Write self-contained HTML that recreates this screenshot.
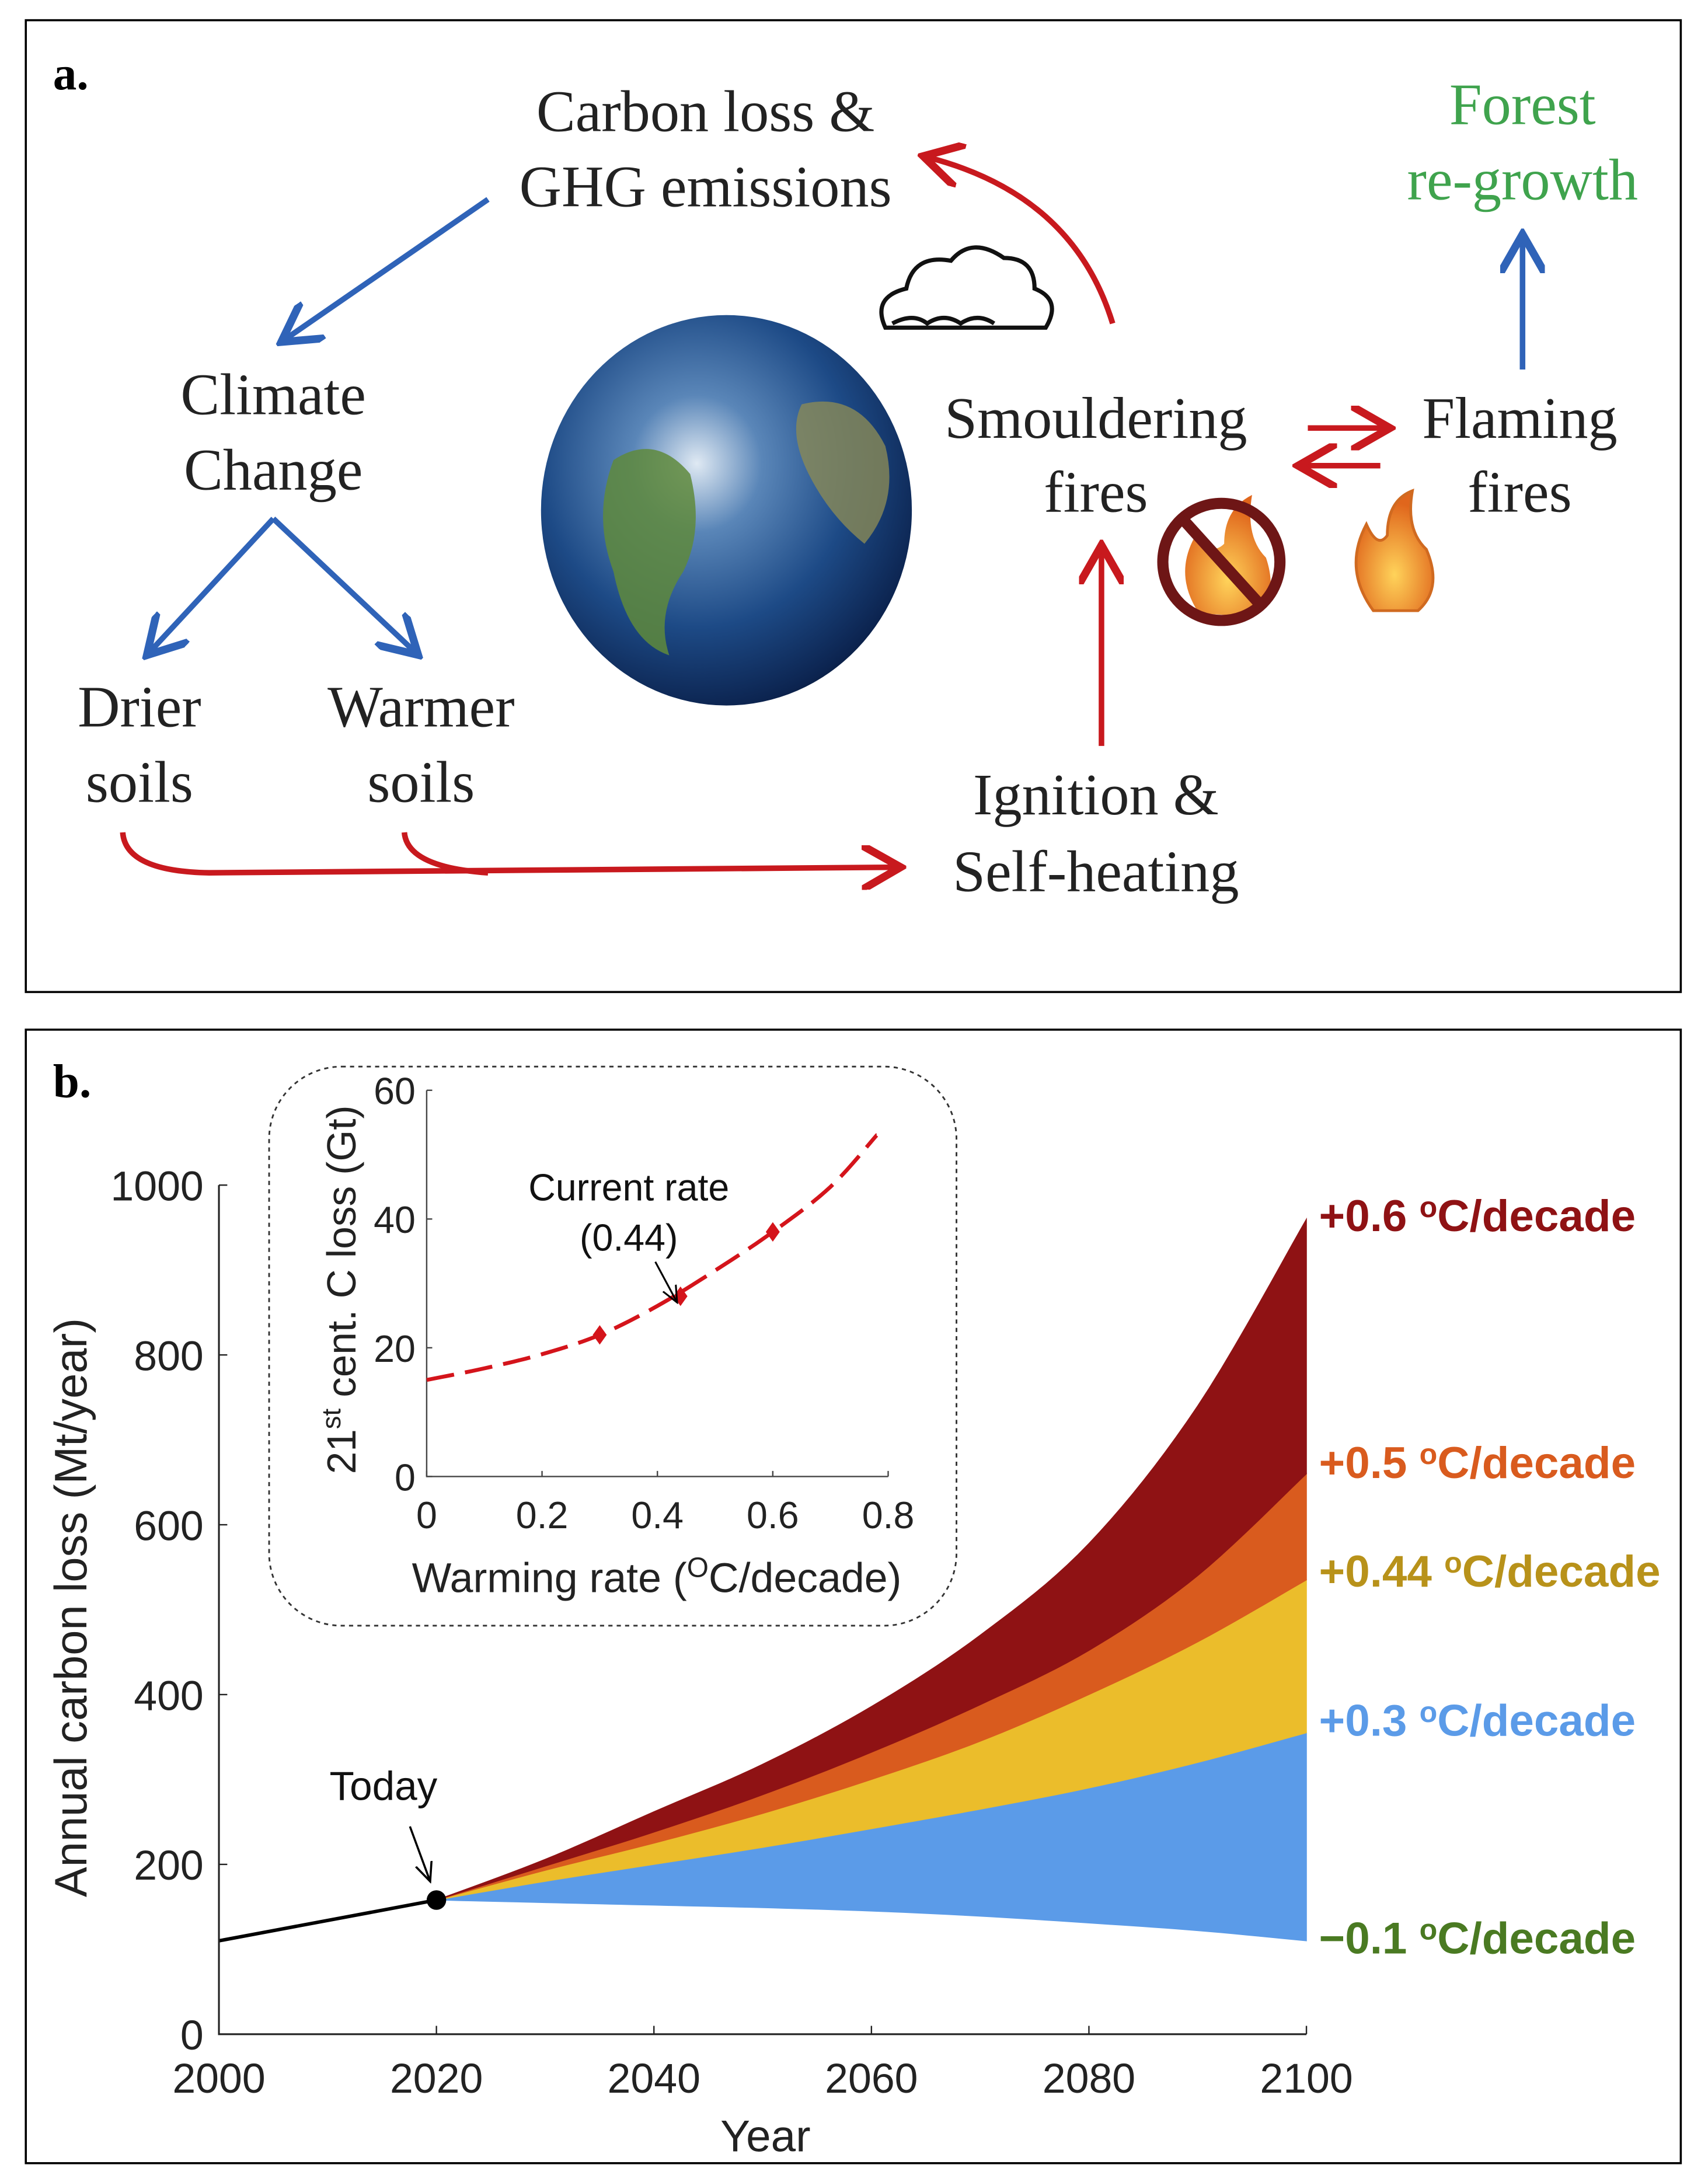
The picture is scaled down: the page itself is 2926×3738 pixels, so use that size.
<!DOCTYPE html>
<html><head><meta charset="utf-8"><style>
html,body{margin:0;padding:0;background:#fff;}
svg{display:block;}
.serif{font-family:"Liberation Serif",serif;}
.sans{font-family:"Liberation Sans",sans-serif;}
</style></head><body>
<svg id="fig" width="2926" height="3738" viewBox="0 0 1225 1565" xmlns="http://www.w3.org/2000/svg">
<defs>
<radialGradient id="earth" cx="0.42" cy="0.38" r="0.7">
<stop offset="0" stop-color="#dfe9f3"/><stop offset="0.25" stop-color="#5a86b8"/><stop offset="0.6" stop-color="#1d4a86"/><stop offset="0.9" stop-color="#0c2450"/><stop offset="1" stop-color="#06142e"/>
</radialGradient>
<radialGradient id="flame" cx="0.5" cy="0.7" r="0.6"><stop offset="0" stop-color="#ffd35a"/><stop offset="1" stop-color="#e0661c"/></radialGradient>
<marker id="ab" markerWidth="8" markerHeight="8" refX="6" refY="4" orient="auto" markerUnits="strokeWidth"><path d="M0,0 L7,4 L0,8" fill="none" stroke="#2f63b8" stroke-width="1.4"/></marker>
<marker id="ar" markerWidth="8" markerHeight="8" refX="6" refY="4" orient="auto" markerUnits="strokeWidth"><path d="M0,0 L7,4 L0,8" fill="none" stroke="#c8191e" stroke-width="1.4"/></marker>
<marker id="ak" markerWidth="10" markerHeight="10" refX="8" refY="5" orient="auto" markerUnits="strokeWidth"><path d="M0,1 L9,5 L0,9" fill="none" stroke="#000" stroke-width="1"/></marker>
</defs>

<g>
<rect x="18.5" y="14.5" width="1187" height="697" fill="#fff" stroke="#000" stroke-width="1.5"/>
<text x="38" y="64" class="serif" font-size="34" font-weight="bold">a.</text>
<g class="serif" font-size="42" text-anchor="middle" fill="#222">
<text x="506" y="94">Carbon loss &amp;</text>
<text x="506" y="148">GHG emissions</text>
<text x="1092" y="89" fill="#3fa34d">Forest</text>
<text x="1092" y="143" fill="#3fa34d">re-growth</text>
<text x="196" y="297">Climate</text>
<text x="196" y="351">Change</text>
<text x="100" y="521">Drier</text>
<text x="100" y="575">soils</text>
<text x="302" y="521">Warmer</text>
<text x="302" y="575">soils</text>
<text x="786" y="314">Smouldering</text>
<text x="786" y="367">fires</text>
<text x="1090" y="314">Flaming</text>
<text x="1090" y="367">fires</text>
<text x="786" y="584">Ignition &amp;</text>
<text x="786" y="639">Self-heating</text>
</g>
<g fill="none" stroke-width="4">
<path d="M350,143 L205,243" stroke="#2f63b8" marker-end="url(#ab)"/>
<path d="M196,372 L108,467" stroke="#2f63b8" marker-end="url(#ab)"/>
<path d="M196,372 L297,467" stroke="#2f63b8" marker-end="url(#ab)"/>
<path d="M1092,265 L1092,172" stroke="#2f63b8" marker-end="url(#ab)"/>
<path d="M798,232 Q770,140 666,113" stroke="#c8191e" marker-end="url(#ar)"/>
<path d="M790,535 L790,395" stroke="#c8191e" marker-end="url(#ar)"/>
<path d="M88,597 Q90,625 150,626 L642,622" stroke="#c8191e" marker-end="url(#ar)"/>
<path d="M290,597 Q292,622 350,626" stroke="#c8191e"/>
<path d="M938,307 L993,307" stroke="#c8191e" marker-end="url(#ar)"/>
<path d="M990,334 L935,334" stroke="#c8191e" marker-end="url(#ar)"/>
</g>
<g>
<ellipse cx="521" cy="366" rx="133" ry="140" fill="url(#earth)"/>
<path d="M440,330 q30,-20 55,10 q10,40 -5,70 q-20,30 -10,60 q-30,-10 -40,-60 q-15,-40 0,-80z" fill="#5f8a3c" opacity="0.85"/>
<path d="M575,290 q40,-10 60,30 q10,40 -15,70 q-25,-20 -40,-50 q-15,-30 -5,-50z" fill="#8a8a56" opacity="0.8"/>
</g>
<g fill="#fff" stroke="#111" stroke-width="3">
<path d="M635,235 q-10,-22 15,-28 q5,-25 32,-20 q15,-18 38,-2 q22,0 22,22 q20,8 8,28 z"/>
<path d="M640,232 q15,-8 25,0 q12,-8 24,0 q12,-8 24,0" fill="none"/>
</g>
<g>
<path d="M860,440 q-20,-30 0,-60 q8,20 18,10 q0,-25 20,-35 q-5,30 10,45 q10,30 -10,42z" fill="url(#flame)"/>
<circle cx="876" cy="403" r="42" fill="none" stroke="#6e1616" stroke-width="8"/>
<line x1="848" y1="372" x2="905" y2="435" stroke="#6e1616" stroke-width="8"/>
</g>
<g>
<path d="M985,438 q-22,-30 -5,-62 q8,18 15,8 q0,-25 18,-32 q-5,28 10,42 q12,28 -6,44z" fill="url(#flame)" stroke="#d06a20" stroke-width="2"/>
</g>
</g>

<g>
<rect x="18.5" y="738.5" width="1187" height="813" fill="#fff" stroke="#000" stroke-width="1.5"/>
<text x="38" y="787" class="serif" font-size="34" font-weight="bold">b.</text>
<g id="main" class="sans"></g>
<g id="inset" class="sans"></g>
</g>
</svg>
<script>
// Main chart data
const years = [2020, 2030, 2040, 2050, 2060, 2070, 2080, 2090, 2100];
const rateMinus01 = [158, 155, 152, 149, 145, 139, 131, 122, 110];
const rate03 = [158, 180, 200, 220, 242, 265, 290, 320, 355];
const rate044 = [158, 193, 225, 260, 300, 345, 400, 462, 535];
const rate05 = [158, 198, 238, 282, 332, 388, 452, 540, 660];
const rate06 = [158, 206, 262, 318, 386, 470, 578, 740, 960];
const histYears = [2000, 2020];
const histValues = [110, 158];
const yTicks = [0, 200, 400, 600, 800, 1000];
const xTicks = [2000, 2020, 2040, 2060, 2080, 2100];
// Inset data
const insetRates = [0, 0.1, 0.2, 0.3, 0.4, 0.5, 0.6, 0.7, 0.78];
const insetLoss = [15, 16.8, 19, 22, 26.5, 32, 38, 45, 53];
const markerRates = [0.3, 0.44, 0.6];
const markerLoss = [22, 28, 38];
const insetYTicks = [0, 20, 40, 60];
const insetXTicks = [0, 0.2, 0.4, 0.6, 0.8];

const NS = 'http://www.w3.org/2000/svg';
function mk(parent, tag, attrs, text) {
  const e = document.createElementNS(NS, tag);
  for (const k in attrs) e.setAttribute(k, attrs[k]);
  if (text !== undefined) e.textContent = text;
  parent.appendChild(e);
  return e;
}
const X = yr => 157 + (yr - 2000) * 7.8;
const Y = v => 1459 - v * 0.609;
const IX = r => 306 + r * 413.75;
const IY = v => 1059 - v * 4.617;

function smooth(xs, ys, fx, fy) {
  const pts = [];
  const n = xs.length;
  for (let i = 0; i < n - 1; i++) {
    const x0 = xs[Math.max(0, i - 1)], y0 = ys[Math.max(0, i - 1)];
    const x1 = xs[i], y1 = ys[i], x2 = xs[i + 1], y2 = ys[i + 1];
    const x3 = xs[Math.min(n - 1, i + 2)], y3 = ys[Math.min(n - 1, i + 2)];
    for (let t = 0; t < 1; t += 0.1) {
      const t2 = t * t, t3 = t2 * t;
      const cx = 0.5 * (2 * x1 + (-x0 + x2) * t + (2 * x0 - 5 * x1 + 4 * x2 - x3) * t2 + (-x0 + 3 * x1 - 3 * x2 + x3) * t3);
      const cy = 0.5 * (2 * y1 + (-y0 + y2) * t + (2 * y0 - 5 * y1 + 4 * y2 - y3) * t2 + (-y0 + 3 * y1 - 3 * y2 + y3) * t3);
      pts.push([fx(cx), fy(cy)]);
    }
  }
  pts.push([fx(xs[n - 1]), fy(ys[n - 1])]);
  return pts;
}

const main = document.getElementById('main');
const bands = [
  [rateMinus01, rate03, '#5b9be8', 'band-0.3'],
  [rate03, rate044, '#ebbd2b', 'band-0.44'],
  [rate044, rate05, '#d95b1e', 'band-0.5'],
  [rate05, rate06, '#8f1214', 'band-0.6']
];
bands.forEach(b => {
  const lo = smooth(years, b[0], X, Y), hi = smooth(years, b[1], X, Y).reverse();
  const d = 'M' + lo.concat(hi).map(p => p[0].toFixed(2) + ',' + p[1].toFixed(2)).join(' L') + 'Z';
  const p = mk(main, 'path', { d: d, fill: b[2], stroke: b[2], 'stroke-width': 0.6 });
  
  
});
const hl = mk(main, 'line', { x1: X(histYears[0]), y1: Y(histValues[0]), x2: X(histYears[1]), y2: Y(histValues[1]), stroke: '#000', 'stroke-width': 2.5 });


const dot = mk(main, 'circle', { cx: X(histYears[1]), cy: Y(histValues[1]), r: 7, fill: '#000' });


const ax = mk(main, 'path', { d: `M${X(2000)},${Y(1000)} L${X(2000)},${Y(0)} L${X(2100)},${Y(0)}`, fill: 'none', stroke: '#222', 'stroke-width': 1.3 });


yTicks.forEach(v => {
  mk(main, 'line', { x1: X(2000), x2: X(2000) + 6, y1: Y(v), y2: Y(v), stroke: '#222', 'stroke-width': 1 });
  const t = mk(main, 'text', { x: X(2000) - 11, y: Y(v) + 11, 'font-size': 30, 'text-anchor': 'end', fill: '#222' }, String(v));
  
  
});
xTicks.forEach(v => {
  mk(main, 'line', { x1: X(v), x2: X(v), y1: Y(0), y2: Y(0) - 6, stroke: '#222', 'stroke-width': 1 });
  const t = mk(main, 'text', { x: X(v), y: 1501, 'font-size': 30, 'text-anchor': 'middle', fill: '#222' }, String(v));
  
  
});
let t = mk(main, 'text', { x: 549, y: 1543, 'font-size': 32, 'text-anchor': 'middle', fill: '#222' }, 'Year');


t = mk(main, 'text', { x: 62, y: 1153, 'font-size': 32.5, 'text-anchor': 'middle', fill: '#222', transform: 'rotate(-90 62 1153)' }, 'Annual carbon loss (Mt/year)');


t = mk(main, 'text', { x: 275, y: 1291, 'font-size': 29, 'text-anchor': 'middle', fill: '#111' }, 'Today');


const ta = mk(main, 'line', { x1: 294, y1: 1310, x2: 308, y2: 1348, stroke: '#000', 'stroke-width': 1.5, 'marker-end': 'url(#ak)' });


const endLabels = [
  [rate06, '+0.6 ', '#8f1214', 0, 'label-0.6'],
  [rate05, '+0.5 ', '#d95b1e', 0, 'label-0.5'],
  [rate044, '+0.44 ', '#b8921a', 0, 'label-0.44'],
  [rate03, '+0.3 ', '#5b9be8', 0, 'label-0.3'],
  [rateMinus01, '\u22120.1 ', '#4a7a22', 0, 'label-minus-0.1']
];
const labelY = [873, 1050, 1128, 1235, 1391];
endLabels.forEach((l, i) => {
  const tx = mk(main, 'text', { x: 946, y: labelY[i] + 10, 'font-size': 32, 'font-weight': 'bold', fill: l[2] });
  
  
  tx.appendChild(document.createTextNode(l[1]));
  mk(tx, 'tspan', { dy: -10, 'font-size': 21 }, 'o');
  mk(tx, 'tspan', { dy: 10 }, 'C/decade');
});

// Inset
const inset = document.getElementById('inset');
const box = mk(inset, 'rect', { x: 193, y: 765, width: 493, height: 401, rx: 52, fill: '#fff', stroke: '#333', 'stroke-width': 1.2, 'stroke-dasharray': '3,3' });


const iax = mk(inset, 'path', { d: `M${IX(0)},${IY(60)} L${IX(0)},${IY(0)} L${IX(0.8)},${IY(0)}`, fill: 'none', stroke: '#444', 'stroke-width': 1 });


insetYTicks.forEach(v => {
  mk(inset, 'line', { x1: IX(0), x2: IX(0) + 4, y1: IY(v), y2: IY(v), stroke: '#444' });
  const q = mk(inset, 'text', { x: IX(0) - 8, y: IY(v) + 10, 'font-size': 27, 'text-anchor': 'end', fill: '#222' }, String(v));
  
  
});
insetXTicks.forEach(v => {
  mk(inset, 'line', { x1: IX(v), x2: IX(v), y1: IY(0), y2: IY(0) - 4, stroke: '#444' });
  const q = mk(inset, 'text', { x: IX(v), y: 1096, 'font-size': 27, 'text-anchor': 'middle', fill: '#222' }, String(v));
  
  
});
const cp = smooth(insetRates, insetLoss, IX, IY);
const cl = mk(inset, 'path', { d: 'M' + cp.map(p => p[0].toFixed(2) + ',' + p[1].toFixed(2)).join(' L'), fill: 'none', stroke: '#d4141b', 'stroke-width': 2.8, 'stroke-dasharray': '20,8' });


markerRates.forEach((r, i) => {
  const cx = IX(r), cy = IY(markerLoss[i]);
  const m = mk(inset, 'path', { d: `M${cx},${cy - 7} L${cx + 5},${cy} L${cx},${cy + 7} L${cx - 5},${cy}Z`, fill: '#d4141b' });
  
  
});
t = mk(inset, 'text', { x: 451, y: 861, 'font-size': 27, 'text-anchor': 'middle', fill: '#111' }, 'Current rate');


t = mk(inset, 'text', { x: 451, y: 897, 'font-size': 27, 'text-anchor': 'middle', fill: '#111' }, '(0.44)');


const ca = mk(inset, 'line', { x1: 470, y1: 905, x2: 485, y2: 933, stroke: '#000', 'stroke-width': 1.3, 'marker-end': 'url(#ak)' });


t = mk(inset, 'text', { x: 471, y: 1142, 'font-size': 30, 'text-anchor': 'middle', fill: '#222' });


t.appendChild(document.createTextNode('Warming rate ('));
mk(t, 'tspan', { dy: -11, 'font-size': 20 }, 'O');
mk(t, 'tspan', { dy: 11 }, 'C/decade)');
t = mk(inset, 'text', { x: 255, y: 925, 'font-size': 29, 'text-anchor': 'middle', fill: '#222', transform: 'rotate(-90 255 925)' });


t.appendChild(document.createTextNode('21'));
mk(t, 'tspan', { dy: -11, 'font-size': 19 }, 'st');
mk(t, 'tspan', { dy: 11 }, ' cent. C loss (Gt)');
</script>
</body></html>
